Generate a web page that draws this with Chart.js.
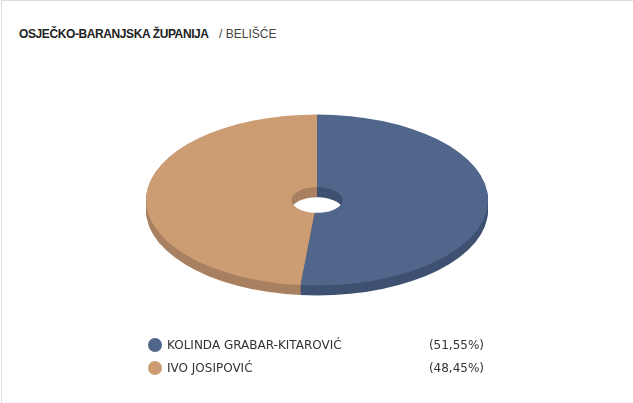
<!DOCTYPE html>
<html>
<head>
<meta charset="utf-8">
<script src="https://cdn.jsdelivr.net/npm/chart.js@4/dist/chart.umd.min.js"></script>
<style>
  html, body { margin: 0; padding: 0; background: #fff; }
  #wrap { position: relative; width: 633px; height: 403px; overflow: hidden; }
  #frame { position: absolute; left: 1px; top: 0; width: 640px; height: 410px;
           border-left: 1px solid #dcdcdc; border-top: 1px solid #dcdcdc; }
  #title { position: absolute; left: 19px; top: 27px; font: bold 12px "Liberation Sans", Arial, sans-serif; color: #222; white-space: nowrap; letter-spacing: -0.4px; }
  #title span { font-weight: normal; color: #444; letter-spacing: 0; margin-left: 5px; }
  #chart { position: absolute; left: 0; top: 0; }
  #legend { position: absolute; left: 148px; top: 337px; width: 336px; font: 12px "DejaVu Sans", Verdana, sans-serif; color: #333; }
  .row { position: relative; height: 23px; }
  .dot { position: absolute; left: 0; top: 1px; width: 14px; height: 14px; border-radius: 50%; }
  .name { position: absolute; left: 19px; top: 1px; }
  .pct { position: absolute; right: 0; top: 1px; }
</style>
</head>
<body>
<div id="wrap">
  <div id="frame"></div>
  <div id="title">OSJEČKO-BARANJSKA ŽUPANIJA &nbsp;<span>/ BELIŠĆE</span></div>
  <canvas id="chart" width="633" height="403"></canvas>
  <div id="legend"></div>
</div>
<script>
// Données
const candidats = ['KOLINDA GRABAR-KITAROVIĆ', 'IVO JOSIPOVIĆ'];
const pourcentages = [51.55, 48.45];
const couleurs = ['#50668a', '#cc9c72'];
const couleursCote = ['#3f5171', '#a98061'];

// Effet 3D : ellipse aplatie + épaisseur
const TILT = 0.5;
const DEPTH = 10;
const CENTRE_Y = 200;

const pie3d = {
  id: 'pie3d',
  beforeDatasetsDraw(chart) {
    const ctx = chart.ctx;
    const arcs = chart.getDatasetMeta(0).data;
    if (!arcs.length) return;
    const cx = arcs[0].x, cy = arcs[0].y;
    // côté (épaisseur)
    for (let d = DEPTH; d >= 1; d--) {
      ctx.save();
      ctx.translate(0, CENTRE_Y - cy + d);
      ctx.translate(cx, cy);
      ctx.scale(1, TILT);
      ctx.translate(-cx, -cy);
      arcs.forEach((a, i) => {
        ctx.beginPath();
        ctx.arc(a.x, a.y, a.outerRadius, a.startAngle, a.endAngle);
        ctx.arc(a.x, a.y, a.innerRadius, a.endAngle, a.startAngle, true);
        ctx.closePath();
        ctx.fillStyle = couleursCote[i];
        ctx.fill();
      });
      ctx.restore();
    }
    // dessus
    ctx.save();
    ctx.translate(0, CENTRE_Y - cy);
    ctx.translate(cx, cy);
    ctx.scale(1, TILT);
    ctx.translate(-cx, -cy);
  },
  afterDatasetsDraw(chart) {
    chart.ctx.restore();
  }
};

new Chart(document.getElementById('chart'), {
  type: 'doughnut',
  data: {
    labels: candidats,
    datasets: [{
      data: pourcentages,
      backgroundColor: couleurs,
      borderWidth: 0,
      hoverOffset: 0
    }]
  },
  plugins: [pie3d],
  options: {
    responsive: false,
    animation: false,
    cutout: '15%',
    layout: { padding: { left: 146, right: 145, top: 28, bottom: 33 } },
    plugins: { legend: { display: false }, tooltip: { enabled: false } },
    events: []
  }
});

// Légende
const legend = document.getElementById('legend');
candidats.forEach((nom, i) => {
  const row = document.createElement('div');
  row.className = 'row';
  row.innerHTML = `<div class="dot" style="background:${couleurs[i]}"></div>` +
    `<div class="name">${nom}</div>` +
    `<div class="pct">(${pourcentages[i].toFixed(2).replace('.', ',')}%)</div>`;
  legend.appendChild(row);
});
</script>
</body>
</html>
